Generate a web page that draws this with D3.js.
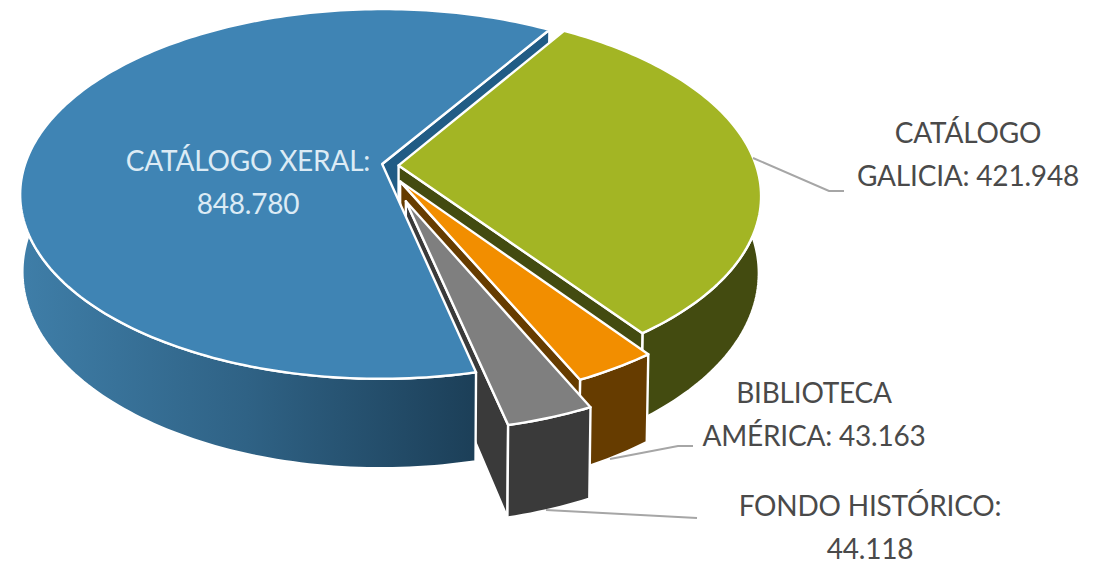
<!DOCTYPE html>
<html>
<head>
<meta charset="utf-8">
<script src="https://cdn.jsdelivr.net/npm/d3@7"></script>
<style>
html, body { margin: 0; padding: 0; background: #fff; }
svg { display: block; }
text { font-family: Lato, "Open Sans", sans-serif; letter-spacing: -0.2px; }
</style>
</head>
<body>
<div id="chart"></div>
<script>
// values as printed on the chart
var categories = ["CATÁLOGO XERAL", "CATÁLOGO GALICIA", "BIBLIOTECA AMÉRICA", "FONDO HISTÓRICO"];
var values = [848780, 421948, 43163, 44118];

// look of each slice
var topColors = ["#3f84b4", "#a3b524", "#f28e00", "#7f7f7f"];
var wallColors = ["url(#blueWall)", "#434b10", "#663c00", "#3a3a3a"];
var edgeColors = ["#215c85", "#434b10", "#663c00", "#3a3a3a"];
var explodeX = [-0.022, 0.024, 0.028, 0.043];
var explodeY = [0, 0.008, 0.095, 0.2];

// labels
var labelBreaks = [2, 1, 1, 2];
var labelX = [248, 968, 814, 870];
var labelY = [171, 143, 403, 516];
var labelColors = ["#dcebf5", "#4a4a4a", "#4a4a4a", "#4a4a4a"];
var leaders = [
	null,
	[[753, 158], [829, 191], [844, 191]],
	[[610, 459], [678, 446], [693, 446]],
	[[546, 510], [697, 518]]
];

var _cfg = {
	w: 1102, h: 564,
	cx: 390, cy: 164,
	rx: 357, ry: 180,
	depth: 75,
	persp: 0.162,
	taper: 0.006,
	startAngle: 167 * Math.PI / 180,
	lineH: 43,
	fontSize: 28
};

var fmt = d3.formatLocale({ decimal: ",", thousands: ".", grouping: [3], currency: ["", " €"] }).format(",d");

// ground plane to screen, z = 0 top of the disc, z = 1 bottom
function project(gx, gy, z) {
	var s = 1 / (1 - _cfg.persp * gy);
	return [
		_cfg.cx + _cfg.rx * gx * s * (1 - _cfg.taper * z),
		_cfg.cy + (_cfg.ry * gy + _cfg.depth * z) * s
	];
}

function rimPoint(slice, a, z) {
	return project(slice.ox + Math.sin(a), slice.oy - Math.cos(a), z);
}

function rim(slice, a0, a1, z) {
	var n = Math.max(2, Math.ceil(Math.abs(a1 - a0) / 0.02));
	return d3.range(n + 1).map(function(i) {
		return rimPoint(slice, a0 + (a1 - a0) * i / n, z);
	});
}

var line = d3.line();

function topPath(slice) {
	return line([project(slice.ox, slice.oy, 0)]
		.concat(rim(slice, slice.startAngle, slice.endAngle, 0))) + "Z";
}

function outerWall(slice, a0, a1) {
	return line(rim(slice, a0, a1, 0).concat(rim(slice, a1, a0, 1))) + "Z";
}

function endWall(slice) {
	return line([
		project(slice.ox, slice.oy, 0),
		rimPoint(slice, slice.endAngle, 0),
		rimPoint(slice, slice.endAngle, 1),
		project(slice.ox, slice.oy, 1)
	]) + "Z";
}

var pie = d3.pie().sort(null)
	.startAngle(_cfg.startAngle)
	.endAngle(_cfg.startAngle + 2 * Math.PI);

var slices = pie(values).map(function(d, i) {
	d.ox = explodeX[i];
	d.oy = explodeY[i];
	d.fill = topColors[i];
	d.wall = wallColors[i];
	d.edge = edgeColors[i];
	return d;
});

var svg = d3.select("#chart").append("svg")
	.attr("width", _cfg.w)
	.attr("height", _cfg.h);

var grad = svg.append("defs").append("linearGradient")
	.attr("id", "blueWall")
	.attr("gradientUnits", "userSpaceOnUse")
	.attr("x1", 20).attr("x2", 475).attr("y1", 0).attr("y2", 0);
grad.append("stop").attr("offset", "0").attr("stop-color", "#3f7ea8");
grad.append("stop").attr("offset", "0.5").attr("stop-color", "#2f6285");
grad.append("stop").attr("offset", "1").attr("stop-color", "#1c3f58");

var pies = svg.append("g");

function shape(d, fill) {
	pies.append("path")
		.attr("d", d)
		.attr("fill", fill)
		.attr("stroke", "#fff")
		.attr("stroke-width", 2.4)
		.attr("stroke-linejoin", "round");
}

var xeral = slices[0], galicia = slices[1], america = slices[2], fondo = slices[3];

// painted back to front: the blue disc has to sit over the grey side wall
shape(endWall(xeral), xeral.edge);
shape(outerWall(galicia, galicia.startAngle, galicia.endAngle), galicia.wall);
shape(endWall(galicia), galicia.edge);
shape(topPath(galicia), galicia.fill);
shape(outerWall(america, america.startAngle, america.endAngle), america.wall);
shape(endWall(america), america.edge);
shape(topPath(america), america.fill);
shape(endWall(fondo), fondo.edge);
shape(outerWall(fondo, fondo.startAngle, fondo.endAngle), fondo.wall);
shape(outerWall(xeral, xeral.startAngle, 290 * Math.PI / 180), xeral.wall);
shape(topPath(xeral), xeral.fill);
shape(topPath(fondo), fondo.fill);

svg.append("g").selectAll("path")
	.data(leaders.filter(function(l) { return l; }))
	.enter()
	.append("path")
		.attr("d", line)
		.attr("fill", "none")
		.attr("stroke", "#a6a6a6")
		.attr("stroke-width", 2);

categories.forEach(function(name, i) {
	var words = (name + ": " + fmt(values[i])).split(" ");
	var lines = [
		words.slice(0, labelBreaks[i]).join(" "),
		words.slice(labelBreaks[i]).join(" ")
	];
	svg.append("g").selectAll("text")
		.data(lines)
		.enter()
		.append("text")
			.attr("x", labelX[i])
			.attr("y", function(d, j) { return labelY[i] + j * _cfg.lineH; })
			.attr("text-anchor", "middle")
			.attr("font-size", _cfg.fontSize)
			.attr("fill", labelColors[i])
			.text(function(d) { return d; });
});
</script>
</body>
</html>
